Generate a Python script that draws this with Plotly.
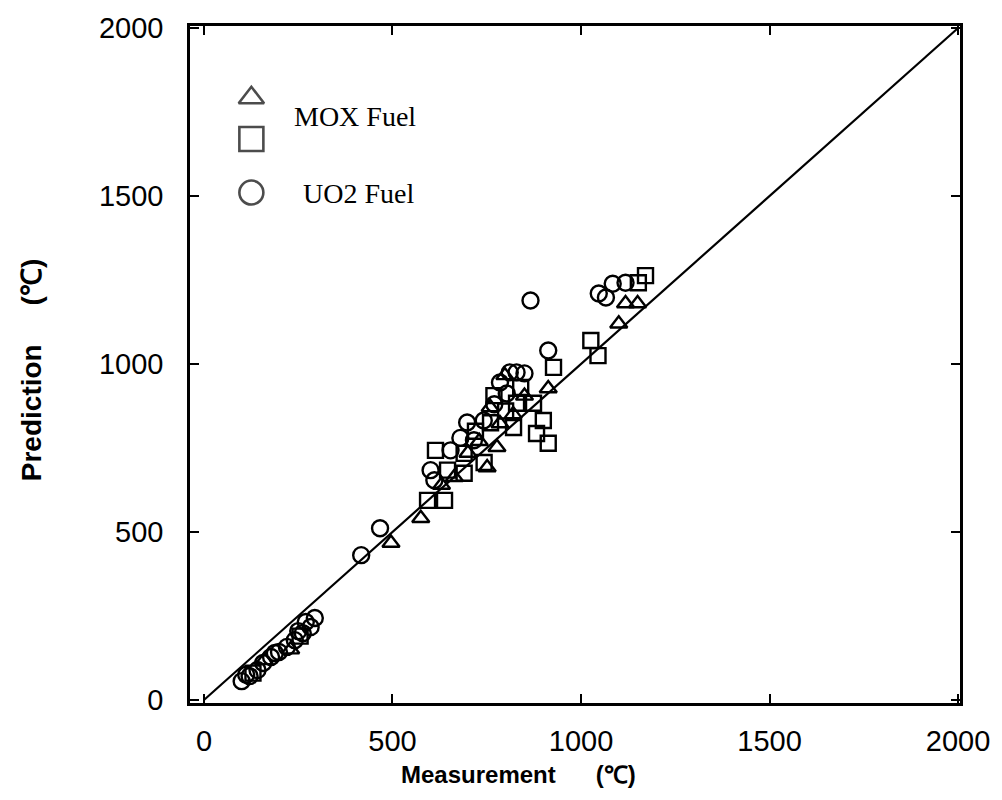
import plotly.graph_objects as go

# ---- data ----
mox_tri_x = [496, 575, 664, 751, 785, 777, 759, 798, 913, 1118, 1150, 1100, 160, 230,
             700, 730, 820, 850, 630]
mox_tri_y = [467, 541, 663, 692, 823, 752, 871, 966, 927, 1180, 1180, 1120, 118, 150,
             735, 770, 850, 905, 640]

mox_sq_x = [593, 638, 614, 690, 646, 690, 821, 829, 874, 900, 882, 913, 927, 1026, 1045, 1171, 1152, 769, 743, 130, 255,
            720, 760, 800, 840]
mox_sq_y = [594, 594, 743, 734, 684, 675, 811, 883, 883, 832, 793, 764, 990, 1070, 1025, 1263, 1242, 906, 707, 80, 190,
            800, 825, 860, 930]

uo2_x = [100, 121, 142, 157, 178, 199, 220, 241, 262, 283, 294, 270,
         417, 467, 601, 611, 654, 698, 742, 716, 803, 811, 829, 850, 913, 866,
         1118, 1084, 1047, 1066, 680, 770, 785, 112, 188, 250]
uo2_y = [56, 71, 89, 110, 128, 143, 158, 178, 199, 217, 244, 232,
         431, 511, 684, 654, 743, 826, 832, 773, 912, 975, 975, 972, 1040, 1189,
         1242, 1239, 1210, 1198, 780, 880, 945, 75, 140, 205]

line_x = [0, 2000]
line_y = [0, 2000]

x_ticks = [0, 500, 1000, 1500, 2000]
y_ticks = [0, 500, 1000, 1500, 2000]

legend_labels = ["MOX Fuel", "UO2 Fuel"]

fig = go.Figure()

fig.add_trace(go.Scatter(x=line_x, y=line_y, mode="lines",
                         line=dict(color="black", width=2.2), showlegend=False))

mk = dict(color="black", line=dict(color="black", width=2.4))
fig.add_trace(go.Scatter(x=mox_sq_x, y=mox_sq_y, mode="markers",
                         marker=dict(mk, symbol="square-open", size=15), showlegend=False))
fig.add_trace(go.Scatter(x=uo2_x, y=uo2_y, mode="markers",
                         marker=dict(mk, symbol="circle-open", size=16), showlegend=False))
fig.add_trace(go.Scatter(x=mox_tri_x, y=mox_tri_y, mode="markers",
                         marker=dict(mk, symbol="triangle-up-open", size=15), showlegend=False))

# legend symbols on an overlay axis in paper-like units
fig.add_trace(go.Scatter(x=[0.0797, 0.0797, 0.0797], y=[0.894, 0.833, 0.754],
                         mode="markers", xaxis="x2", yaxis="y2", showlegend=False,
                         marker=dict(symbol=["triangle-up-open", "square-open", "circle-open"],
                                     size=[22, 24, 24], color="black",
                                     line=dict(color="black", width=2.6))))

tickfont = dict(family="Liberation Sans, Arial", size=29, color="black")

fig.update_layout(
    width=1002, height=800,
    margin=dict(l=190, r=34, t=25, b=97),
    paper_bgcolor="white", plot_bgcolor="white",
    showlegend=False,
    xaxis=dict(range=[-37, 2005], tickvals=x_ticks, ticktext=[str(v) for v in x_ticks],
               ticks="inside", ticklen=9, tickwidth=2, tickcolor="black",
               showline=True, linecolor="black", linewidth=2.5, mirror="ticks",
               showgrid=False, zeroline=False, tickfont=tickfont, ticklabelstandoff=10),
    yaxis=dict(range=[-9, 2006], tickvals=y_ticks, ticktext=[str(v) for v in y_ticks],
               ticks="inside", ticklen=9, tickwidth=2, tickcolor="black",
               showline=True, linecolor="black", linewidth=2.5, mirror="ticks",
               showgrid=False, zeroline=False, tickfont=tickfont, ticklabelstandoff=18),
    xaxis2=dict(range=[0, 1], overlaying="x", visible=False, showgrid=False),
    yaxis2=dict(range=[0, 1], overlaying="y", visible=False, showgrid=False),
)

serif = dict(family="Liberation Serif, Times New Roman, serif", size=28, color="black")
fig.add_annotation(xref="paper", yref="paper", x=0.1324, y=0.867, text=legend_labels[0],
                   showarrow=False, xanchor="left", yanchor="middle", font=serif)
fig.add_annotation(xref="paper", yref="paper", x=0.144, y=0.752, text=legend_labels[1],
                   showarrow=False, xanchor="left", yanchor="middle", font=serif)

nb = "\u00a0"
fig.add_annotation(xref="paper", yref="paper", x=0.427, y=-0.106,
                   text="<b>Measurement" + nb * 6 + "(℃)</b>", showarrow=False,
                   xanchor="center", yanchor="middle",
                   font=dict(family="Liberation Sans, Arial", size=24, color="black"))
fig.add_annotation(xref="paper", yref="paper", x=-0.2057, y=0.491,
                   text="<b>Prediction" + nb * 5 + "(℃)</b>", showarrow=False, textangle=-90,
                   xanchor="center", yanchor="middle",
                   font=dict(family="Liberation Sans, Arial", size=28, color="black"))

fig.write_html("out.html")
